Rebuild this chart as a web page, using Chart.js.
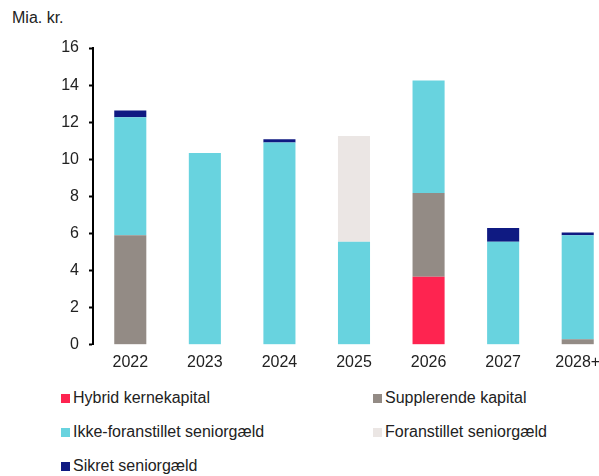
<!DOCTYPE html>
<html lang="da">
<head>
<meta charset="UTF-8" />
<title>Udløb</title>
<script src="https://cdn.jsdelivr.net/npm/chart.js@4"></script>
<style>
  html, body { margin: 0; padding: 0; overflow: hidden; background: #fff; }
  body { width: 599px; height: 476px; position: relative; font-family: "Liberation Sans", Arial, sans-serif; color: #222; }
  #unit { position: absolute; left: 12px; top: 9px; font-size: 16px; }
  #wrap { position: absolute; left: 0; top: 0; width: 625px; height: 372px; }
  #legend { position: absolute; left: 61px; top: 389px; width: 540px; }
  .item { position: absolute; font-size: 16px; white-space: nowrap; }
  .item span { display: inline-block; width: 9px; height: 9px; margin-right: 3px; vertical-align: 0px; }
</style>
</head>
<body>
<div id="unit">Mia. kr.</div>
<div id="wrap"><canvas id="myChart"></canvas></div>
<div id="legend"></div>
<script>
  const years = ['2022', '2023', '2024', '2025', '2026', '2027', '2028+'];
  const hybrid = [0, 0, 0, 0, 3.67, 0, 0];
  const supplerende = [5.9, 0, 0, 0, 4.52, 0, 0.3];
  const ikkeForanstillet = [6.37, 10.34, 10.9, 5.55, 6.06, 5.55, 5.6];
  const foranstillet = [0, 0, 0, 5.7, 0, 0, 0];
  const sikret = [0.36, 0, 0.18, 0, 0, 0.75, 0.16];
  const yTicks = [0, 2, 4, 6, 8, 10, 12, 14, 16];

  const series = [
    { label: 'Hybrid kernekapital', data: hybrid, color: '#fe2450' },
    { label: 'Supplerende kapital', data: supplerende, color: '#938b85' },
    { label: 'Ikke-foranstillet seniorgæld', data: ikkeForanstillet, color: '#68d3df' },
    { label: 'Foranstillet seniorgæld', data: foranstillet, color: '#ebe6e4' },
    { label: 'Sikret seniorgæld', data: sikret, color: '#0f1a82' }
  ];

  const font = { family: '"Liberation Sans", Arial, sans-serif', size: 16 };

  new Chart(document.getElementById('myChart'), {
    type: 'bar',
    data: {
      labels: years,
      datasets: series.map(s => ({
        label: s.label,
        data: s.data,
        backgroundColor: s.color,
        borderWidth: 0,
        categoryPercentage: 1,
        barPercentage: 0.43
      }))
    },
    options: {
      responsive: true,
      maintainAspectRatio: false,
      animation: false,
      layout: { padding: { top: 48, right: 10, left: 0, bottom: 0 } },
      plugins: { legend: { display: false }, tooltip: { enabled: false } },
      scales: {
        x: {
          stacked: true,
          grid: { display: false },
          border: { display: false },
          ticks: { color: '#222', font: font, padding: 0 }
        },
        y: {
          stacked: true,
          min: 0,
          max: 16,
          afterBuildTicks: axis => { axis.ticks = yTicks.map(v => ({ value: v })); },
          afterFit: axis => { axis.width = 93; },
          grid: { drawOnChartArea: false, drawTicks: true, tickLength: 4, tickColor: '#000', tickWidth: 2 },
          border: { display: true, color: '#000', width: 2 },
          ticks: { color: '#222', font: font, padding: 10 }
        }
      }
    }
  });

  // legend in two columns
  const legend = document.getElementById('legend');
  series.forEach((s, i) => {
    const div = document.createElement('div');
    div.className = 'item';
    div.style.left = (i % 2 === 0 ? 0 : 312) + 'px';
    div.style.top = (Math.floor(i / 2) * 34) + 'px';
    div.innerHTML = '<span style="background:' + s.color + '"></span>' + s.label;
    legend.appendChild(div);
  });
</script>
</body>
</html>
